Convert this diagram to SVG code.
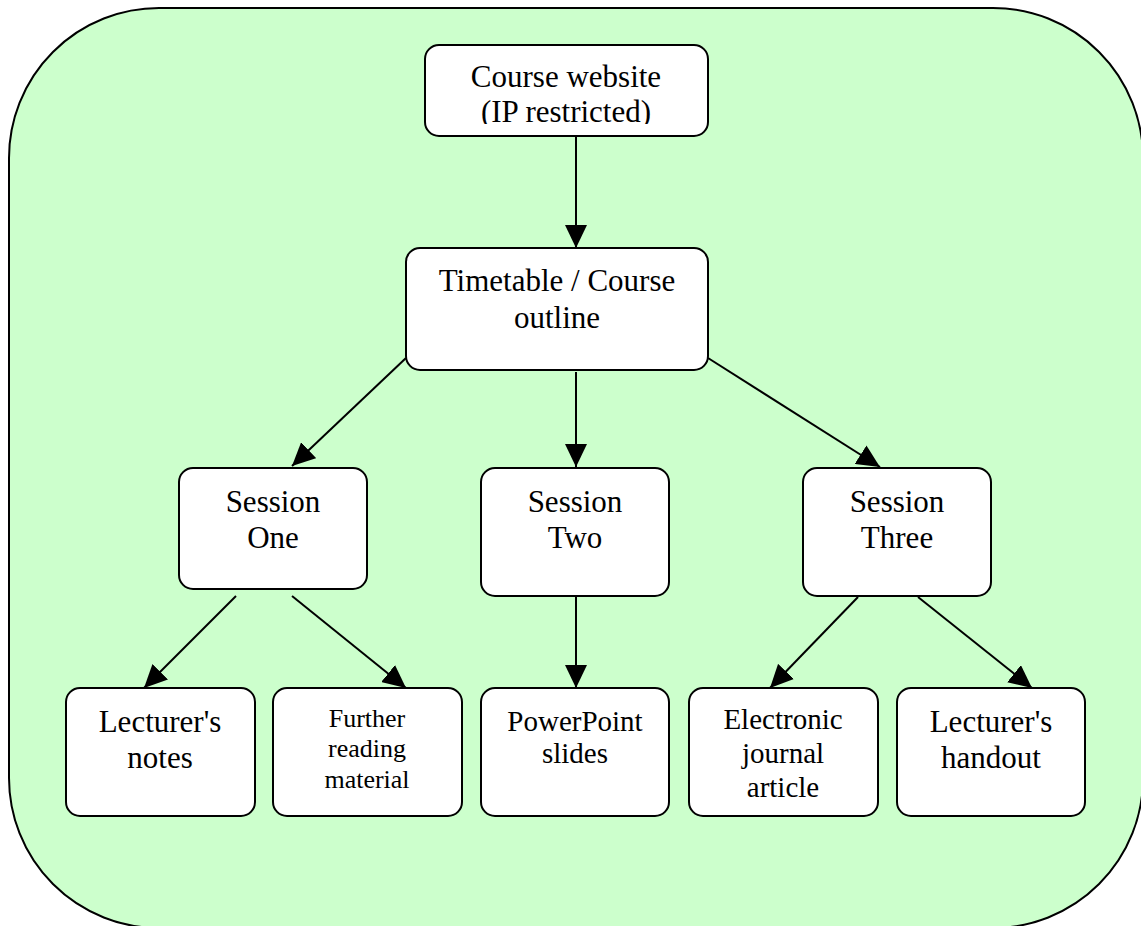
<svg xmlns="http://www.w3.org/2000/svg" width="1141" height="926" viewBox="0 0 1141 926">
<style>
.box{fill:#ffffff;stroke:#000000;stroke-width:2}
text{font-family:'Liberation Serif','Times New Roman','DejaVu Serif',serif;fill:#000000;text-anchor:middle}
.conn line{stroke:#000000;stroke-width:2;marker-end:url(#ah)}
</style>
<defs>
<marker id="ah" markerUnits="userSpaceOnUse" markerWidth="24" markerHeight="22" viewBox="0 0 24 22" refX="23" refY="11" orient="auto">
<path d="M0,0 L23,11 L0,22 z" fill="#000000"/>
</marker>
<clipPath id="c1"><rect x="425" y="46" width="283" height="78"/></clipPath>
</defs>
<rect id="background" x="9" y="8" width="1134" height="920" rx="150" ry="150" fill="#ccffcc" stroke="#000000" stroke-width="2"/>
<g class="conn" id="connectors">
<line x1="576" y1="137" x2="576" y2="248"/>
<line x1="406" y1="358" x2="292" y2="466"/>
<line x1="576" y1="372" x2="576" y2="467"/>
<line x1="708" y1="358" x2="880" y2="467"/>
<line x1="236" y1="596" x2="144" y2="688"/>
<line x1="292" y1="596" x2="406" y2="688"/>
<line x1="576" y1="597" x2="576" y2="688"/>
<line x1="858" y1="597" x2="770" y2="688"/>
<line x1="918" y1="597" x2="1032" y2="688"/>
</g>
<g id="course-website">
<rect class="box" x="425" y="45" width="283" height="91" rx="14"/>
<g clip-path="url(#c1)">
<text font-family="Liberation Serif, serif" x="566" y="87" font-size="31">Course website</text>
<text font-family="Liberation Serif, serif" x="566" y="122" font-size="31">(IP restricted)</text>
</g>
</g>
<g id="timetable">
<rect class="box" x="406" y="248" width="302" height="122" rx="14"/>
<text font-family="Liberation Serif, serif" x="557" y="291" font-size="31">Timetable / Course</text>
<text font-family="Liberation Serif, serif" x="557" y="328" font-size="31">outline</text>
</g>
<g id="session-one">
<rect class="box" x="179" y="468" width="188" height="121" rx="14"/>
<text font-family="Liberation Serif, serif" x="273" y="512" font-size="31">Session</text>
<text font-family="Liberation Serif, serif" x="273" y="548" font-size="31">One</text>
</g>
<g id="session-two">
<rect class="box" x="481" y="468" width="188" height="128" rx="14"/>
<text font-family="Liberation Serif, serif" x="575" y="512" font-size="31">Session</text>
<text font-family="Liberation Serif, serif" x="575" y="548" font-size="31">Two</text>
</g>
<g id="session-three">
<rect class="box" x="803" y="468" width="188" height="128" rx="14"/>
<text font-family="Liberation Serif, serif" x="897" y="512" font-size="31">Session</text>
<text font-family="Liberation Serif, serif" x="897" y="548" font-size="31">Three</text>
</g>
<g id="lecturers-notes">
<rect class="box" x="66" y="688" width="189" height="128" rx="14"/>
<text font-family="Liberation Serif, serif" x="160" y="732" font-size="31">Lecturer's</text>
<text font-family="Liberation Serif, serif" x="160" y="768" font-size="31">notes</text>
</g>
<g id="further-reading">
<rect class="box" x="273" y="688" width="189" height="128" rx="14"/>
<text font-family="Liberation Serif, serif" x="367" y="727" font-size="26">Further</text>
<text font-family="Liberation Serif, serif" x="367" y="757" font-size="26">reading</text>
<text font-family="Liberation Serif, serif" x="367" y="788" font-size="26">material</text>
</g>
<g id="powerpoint">
<rect class="box" x="481" y="688" width="188" height="128" rx="14"/>
<text font-family="Liberation Serif, serif" x="575" y="731" font-size="29">PowerPoint</text>
<text font-family="Liberation Serif, serif" x="575" y="763" font-size="29">slides</text>
</g>
<g id="electronic-journal">
<rect class="box" x="689" y="688" width="189" height="128" rx="14"/>
<text font-family="Liberation Serif, serif" x="783" y="729" font-size="29">Electronic</text>
<text font-family="Liberation Serif, serif" x="783" y="763" font-size="29">journal</text>
<text font-family="Liberation Serif, serif" x="783" y="797" font-size="29">article</text>
</g>
<g id="lecturers-handout">
<rect class="box" x="897" y="688" width="188" height="128" rx="14"/>
<text font-family="Liberation Serif, serif" x="991" y="732" font-size="31">Lecturer's</text>
<text font-family="Liberation Serif, serif" x="991" y="768" font-size="31">handout</text>
</g>
</svg>
